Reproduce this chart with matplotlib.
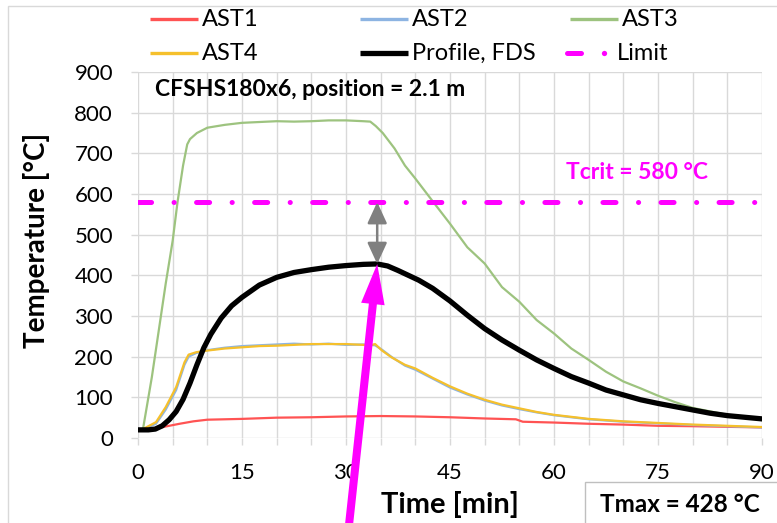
import matplotlib
matplotlib.use("Agg")
import matplotlib.pyplot as plt
from matplotlib.lines import Line2D
from matplotlib.patches import Rectangle

plt.rcParams["font.family"] = ["Lato", "DejaVu Sans"]
plt.rcParams["lines.scale_dashes"] = False

# ---- data -------------------------------------------------------------
t_ast1 = [0, 1, 3.6, 6, 8, 10, 15, 20, 25, 30, 35, 40, 45, 50, 54.5, 55.5,
          60, 65, 70, 75, 80, 90]
ast1 = [20, 20, 27, 35, 41, 45, 47, 50, 51, 53, 54, 53, 51, 48, 46, 40,
        38, 35, 33, 30, 29, 26]

t_ast24 = [0, 0.5, 2.6, 4, 5.5, 6.7, 7.3, 8.4, 10, 12.5, 15, 17.5, 20, 22.5,
           25, 27.5, 30, 32.5, 33.3, 34.2, 35.2, 36.6, 38.5, 40, 42.5, 45,
           47.5, 50, 52.5, 55, 57.5, 60, 65, 70, 75, 80, 85, 90]
ast2 = [20, 20, 35, 70, 118, 180, 200, 209, 216, 222, 226, 228, 230, 232,
        230, 232, 229, 230, 229, 228, 217, 199, 178, 168, 146, 124,
        107, 92, 80, 71, 63, 56, 46, 40, 36, 32, 29, 26]
ast4 = [20, 20, 39, 76, 125, 186, 205, 211, 215, 220, 223, 226, 227, 229,
        231, 231, 231, 229, 227, 231, 215, 198, 180, 171, 148, 127,
        109, 94, 82, 73, 64, 57, 47, 41, 37, 33, 30, 27]

t_ast3 = [0, 0.7, 2, 3, 4, 5, 5.7, 6.5, 7.1, 7.5, 8.5, 10, 12.5, 15, 17.5,
          20, 22.5, 25, 27.5, 30, 32.5, 33.5, 34.3, 35.3, 37, 38.5, 40,
          42.6, 45, 47.5, 50, 52.5, 55, 57.5, 60, 62.5, 65, 67.5, 70, 72.5,
          75, 77.5, 80, 85, 90]
ast3 = [20, 20, 150, 265, 380, 485, 580, 670, 722, 735, 750, 763, 770, 775,
        777, 779, 778, 779, 781, 781, 779, 778, 767, 750, 712, 670, 638,
        580, 527, 469, 429, 371, 335, 290, 257, 220, 192, 163, 139, 122,
        104, 88, 74, 57, 44]

t_fds = [0, 1.5, 2.5, 3.5, 4.5, 5.5, 6.5, 7.5, 8.5, 9.5, 10.5, 12, 13.5, 15,
         17.5, 20, 22.5, 25, 27.5, 30, 32.5, 34.5, 36, 37.5, 39, 40.5, 42.5,
         45, 47.5, 50, 52.5, 55, 57.5, 60, 62.5, 65, 67.5, 70, 72.5, 75,
         77.5, 80, 82.5, 85, 87.5, 90]
fds = [20, 20, 22, 30, 45, 65, 95, 135, 180, 222, 255, 295, 325, 346,
       376, 395, 407, 414, 420, 424, 427, 428, 423, 412, 400, 388, 368,
       337, 302, 269, 241, 216, 192, 171, 151, 135, 118, 106, 94, 85,
       77, 69, 61, 55, 51, 47]

t_limit = [0, 90]
limit = [580, 580]

t_max = 34.5
T_max = 428
T_crit = 580

x_ticks = [0, 15, 30, 45, 60, 75, 90]
y_ticks = [0, 100, 200, 300, 400, 500, 600, 700, 800, 900]

series = [
    ("AST1", t_ast1, ast1, "#FF5353", 1.6),
    ("AST2", t_ast24, ast2, "#8DB4E2", 1.6),
    ("AST3", t_ast3, ast3, "#9DC37F", 1.6),
    ("AST4", t_ast24, ast4, "#F5C02C", 1.6),
    ("Profile, FDS", t_fds, fds, "#000000", 3.8),
]
MAGENTA = "#FF00FF"
limit_style = (0, (9.4, 16.2, 0.1, 16.1))
GRID = "#D9D9D9"

# ---- figure -----------------------------------------------------------
W, H = 777, 523
fig = plt.figure(figsize=(W / 100, H / 100), dpi=100)
fig.patches.append(Rectangle((8 / W, -0.1), 1.2, 1.1 - 6 / H,
                             transform=fig.transFigure, fill=False,
                             edgecolor=GRID, lw=1.0))

ax = fig.add_axes([138 / W, 1 - 438 / H, 624 / W, 366 / H])
ax.set_xlim(0, 90)
ax.set_ylim(0, 900)
for s in ax.spines.values():
    s.set_visible(False)

ax.set_xticks(x_ticks)
ax.set_xticks(range(0, 91, 5), minor=True)
ax.set_yticks(y_ticks)
ax.grid(True, which="both", axis="x", color=GRID, lw=1.0)
ax.grid(True, which="major", axis="y", color=GRID, lw=1.0)
ax.set_axisbelow(True)
ax.tick_params(axis="both", which="both", direction="out", length=5,
               color=GRID, width=1.0, labelsize=16, pad=13)
ax.tick_params(axis="y", which="minor", length=0)

for name, t, v, c, lw in series:
    ax.plot(t, v, color=c, lw=lw, solid_joinstyle="round",
            solid_capstyle="round", zorder=3)
ax.plot(t_limit, limit, color=MAGENTA, lw=3.6, linestyle=limit_style,
        dash_capstyle="round", zorder=4)

ax.set_xlabel("Time [min]", fontsize=21, fontweight="bold", labelpad=6)
ax.set_ylabel("Temperature [°C]", fontsize=20, fontweight="bold")
ax.yaxis.set_label_coords(-0.141, 0.541)

ax.text(0.027, 0.951, "CFSHS180x6, position = 2.1 m",
        transform=ax.transAxes, fontsize=16.5, fontweight="bold",
        va="center", ha="left")
ax.text(71.9, 652, f"Tcrit = {T_crit} °C", color=MAGENTA, fontsize=16.5,
        fontweight="bold", ha="center", va="center")

# gap between the critical temperature and the peak of the FDS profile
ax.annotate("", xy=(t_max, T_max), xytext=(t_max, T_crit),
            arrowprops=dict(arrowstyle="<|-|>,head_length=13,head_width=6",
                            mutation_scale=1, color="#808080", lw=1.8,
                            shrinkA=0, shrinkB=0), zorder=5)
# pointer to the peak
ax.annotate("", xy=(t_max, T_max), xytext=(349, -2),
            textcoords="figure pixels", annotation_clip=False,
            arrowprops=dict(arrowstyle="simple,head_length=29,head_width=17,tail_width=5.8",
                            mutation_scale=1, color=MAGENTA, lw=0,
                            shrinkA=0, shrinkB=0), zorder=6)

# Tmax box
fig.patches.append(Rectangle((585 / W, -0.1), 0.5, 0.1 + 1 - 482 / H,
                             transform=fig.transFigure, facecolor="white",
                             edgecolor="#BFBFBF", lw=1.0, zorder=10))
fig.text(600 / W, 1 - 505 / H, f"Tmax = {T_max} °C", fontsize=17.5,
         fontweight="bold", ha="left", va="center", zorder=11)

# ---- legend -----------------------------------------------------------
rows = [1 - 19 / H, 1 - 53 / H]
cols = [150, 360, 570]
entries = [(s[0], s[3], s[4]) for s in series]
for i, (name, c, lw) in enumerate(entries):
    r, k = divmod(i, 3)
    y = rows[r]
    x0 = cols[k]
    fig.add_artist(Line2D([x0 / W, (x0 + 48) / W], [y, y], color=c,
                          lw=max(lw, 2.4), solid_capstyle="butt",
                          transform=fig.transFigure))
    fig.text((x0 + 52) / W, y, name, fontsize=17, va="center", ha="left")
# limit entry
y = rows[1]
fig.add_artist(Line2D([567 / W, 581 / W], [y, y], color=MAGENTA, lw=3.6,
                      solid_capstyle="round", transform=fig.transFigure))
fig.add_artist(Line2D([604 / W], [y], color=MAGENTA, marker="o", ms=3.8,
                      mec="none", transform=fig.transFigure))
fig.text(617 / W, y, "Limit", fontsize=17, va="center", ha="left")

fig.savefig("out.png", dpi=100)
